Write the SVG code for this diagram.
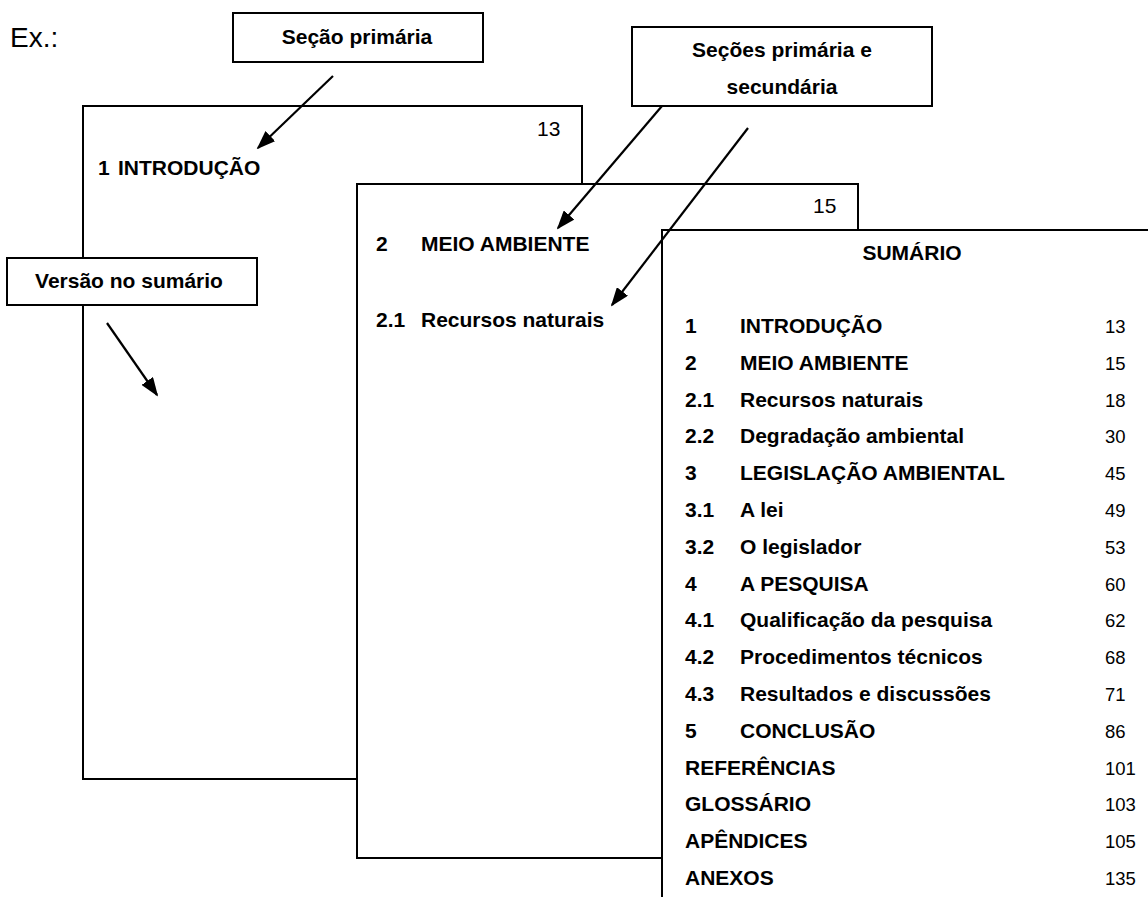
<svg xmlns="http://www.w3.org/2000/svg" width="1148" height="897" viewBox="0 0 1148 897">
<defs>
<style>
.pg{fill:#fff;stroke:#000;stroke-width:2}
.bx{fill:#fff;stroke:#000;stroke-width:2}
.b{font-family:"Liberation Sans",Arial,sans-serif;font-weight:bold;font-size:21px;fill:#000}
.r{font-family:"Liberation Sans",Arial,sans-serif;font-size:21px;fill:#000}
.n{font-family:"Liberation Sans",Arial,sans-serif;font-size:18.5px;fill:#000}
.c{font-family:"Liberation Sans",Arial,sans-serif;font-weight:bold;font-size:21px;fill:#000;text-anchor:middle}
.ln{stroke:#000;stroke-width:2.2;fill:none;marker-end:url(#ah)}
</style>
<marker id="ah" viewBox="0 0 10 10" refX="9" refY="5" markerWidth="19" markerHeight="14" markerUnits="userSpaceOnUse" orient="auto" preserveAspectRatio="none">
<path d="M0,0 L10,5 L0,10 z" fill="#000"/>
</marker>
</defs>
<text x="10" y="47" font-family="Liberation Sans, Arial, sans-serif" font-size="28" fill="#000">Ex.:</text>
<g id="page1">
<rect class="pg" x="83" y="106" width="499" height="673"/>
<text class="r" x="537" y="136">13</text>
<text class="b" x="98" y="175">1</text>
<text class="b" x="118" y="175">INTRODUÇÃO</text>
</g>
<g id="page2">
<rect class="pg" x="357" y="184" width="501" height="674"/>
<text class="r" x="813" y="213">15</text>
<text class="b" x="376" y="251">2</text>
<text class="b" x="421" y="251">MEIO AMBIENTE</text>
<text class="b" x="376" y="327">2.1</text>
<text class="b" x="421" y="327">Recursos naturais</text>
</g>
<g id="sumario">
<rect class="pg" x="662" y="230" width="500" height="680"/>
<text class="b" x="912" y="260" text-anchor="middle">SUMÁRIO</text>
<g class="b">
<text x="685" y="333">1</text><text x="740" y="333">INTRODUÇÃO</text>
<text x="685" y="369.8">2</text><text x="740" y="369.8">MEIO AMBIENTE</text>
<text x="685" y="406.6">2.1</text><text x="740" y="406.6">Recursos naturais</text>
<text x="685" y="443.4">2.2</text><text x="740" y="443.4">Degradação ambiental</text>
<text x="685" y="480.2">3</text><text x="740" y="480.2">LEGISLAÇÃO AMBIENTAL</text>
<text x="685" y="517">3.1</text><text x="740" y="517">A lei</text>
<text x="685" y="553.8">3.2</text><text x="740" y="553.8">O legislador</text>
<text x="685" y="590.6">4</text><text x="740" y="590.6">A PESQUISA</text>
<text x="685" y="627.4">4.1</text><text x="740" y="627.4">Qualificação da pesquisa</text>
<text x="685" y="664.2">4.2</text><text x="740" y="664.2">Procedimentos técnicos</text>
<text x="685" y="701">4.3</text><text x="740" y="701">Resultados e discussões</text>
<text x="685" y="737.8">5</text><text x="740" y="737.8">CONCLUSÃO</text>
<text x="685" y="774.6">REFERÊNCIAS</text>
<text x="685" y="811.4">GLOSSÁRIO</text>
<text x="685" y="848.2">APÊNDICES</text>
<text x="685" y="885">ANEXOS</text>
</g>
<g class="n">
<text x="1105" y="333">13</text>
<text x="1105" y="369.8">15</text>
<text x="1105" y="406.6">18</text>
<text x="1105" y="443.4">30</text>
<text x="1105" y="480.2">45</text>
<text x="1105" y="517">49</text>
<text x="1105" y="553.8">53</text>
<text x="1105" y="590.6">60</text>
<text x="1105" y="627.4">62</text>
<text x="1105" y="664.2">68</text>
<text x="1105" y="701">71</text>
<text x="1105" y="737.8">86</text>
<text x="1105" y="774.6">101</text>
<text x="1105" y="811.4">103</text>
<text x="1105" y="848.2">105</text>
<text x="1105" y="885">135</text>
</g>
</g>
<g id="callout-primaria">
<rect class="bx" x="233" y="13" width="250" height="49"/>
<text class="c" x="357" y="44">Seção primária</text>
</g>
<g id="callout-secundaria">
<rect class="bx" x="632" y="27" width="300" height="79"/>
<text class="c" x="782" y="57">Seções primária e</text>
<text class="c" x="782" y="94">secundária</text>
</g>
<g id="callout-sumario">
<rect class="bx" x="7" y="258" width="250" height="47"/>
<text class="c" x="129" y="288">Versão no sumário</text>
</g>
<g id="connectors">
<line class="ln" x1="333" y1="76" x2="258" y2="148"/>
<line class="ln" x1="662" y1="106" x2="558" y2="228"/>
<line class="ln" x1="748" y1="128" x2="612" y2="305"/>
<line class="ln" x1="107" y1="323" x2="157" y2="395"/>
</g>
</svg>
